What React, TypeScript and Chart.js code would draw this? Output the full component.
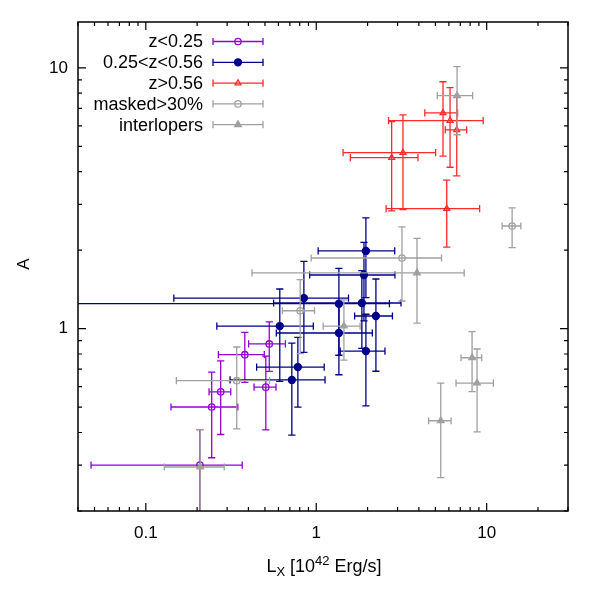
import React, { useEffect, useRef } from "react";
import { Chart, registerables } from "chart.js";

Chart.register(...registerables);

// ---------- data ----------
const seriesNames = ["z<0.25", "0.25<z<0.56", "z>0.56", "masked>30%", "interlopers"];
const seriesColors = ["#9400d3", "#00008b", "#ff2a2a", "#a0a0a0", "#a0a0a0"];

// z<0.25
const lowX = [0.53, 0.381, 0.275, 0.2435, 0.506, 0.2077];
const lowXErr = [0.129, 0.1145, 0.04, 0.103, 0.0745, 0.16];
const lowY = [0.874, 0.795, 0.573, 0.501, 0.597, 0.3];
const lowYErr = [0.188, 0.1725, 0.18, 0.181, 0.1875, 0.11];

// 0.25<z<0.56
const midX = [1.956, 1.905, 1.852, 1.358, 2.239, 1.358, 1.956, 0.846, 0.611, 0.78, 0.719];
const midXErr = [0.93, 0.99, 1.29, 1.33, 0.56, 0.775, 0.574, 0.7, 0.35, 0.333, 0.407];
const midY = [1.987, 1.607, 1.255, 1.247, 1.119, 0.963, 0.821, 1.311, 1.024, 0.713, 0.636];
const midYErr = [0.672, 0.536, 0.414, 0.456, 0.432, 0.297, 0.315, 0.5, 0.396, 0.213, 0.245];

// z>0.56
const highX = [5.543, 6.095, 6.673, 3.227, 2.77, 5.83];
const highXErr = [1.21, 3.44, 0.96, 1.79, 1.185, 3.26];
const highY = [6.722, 6.281, 5.783, 4.732, 4.528, 2.886];
const highYErr = [2.13, 2.12, 1.93, 1.87, 1.7, 0.83];

// masked>30%
const maskX = [0.3415, 0.805, 3.184, 14.1];
const maskXErr = [0.1905, 0.172, 2.25, 1.77];
const maskY = [0.632, 1.172, 1.867, 2.477];
const maskYErr = [0.219, 0.37, 0.59, 0.43];

// interlopers
const intX = [0.2085, 1.453, 3.9, 6.7, 5.374, 8.209, 8.78];
const intXErr = [0.08, 0.355, 3.48, 1.57, 0.81, 1.14, 2.17];
const intY = [0.295, 1.024, 1.636, 7.832, 0.4437, 0.774, 0.619];
const intYErr = [0.115, 0.266, 0.585, 2.29, 0.175, 0.2, 0.217];

// axes
const xMin = 0.04;
const xMax = 30;
const yMin = 0.2;
const yMax = 15;
const xTickLabels = [0.1, 1, 10];
const yTickLabels = [1, 10];

const FONT = '"Liberation Sans", Arial, sans-serif';

function drawMarker(ctx: CanvasRenderingContext2D, style: string, filled: boolean, x: number, y: number, r: number, color: string) {
  ctx.save();
  ctx.beginPath();
  if (style === "triangle") {
    let rad = 0;
    ctx.moveTo(x + Math.sin(rad) * r, y - Math.cos(rad) * r);
    rad += (2 * Math.PI) / 3;
    ctx.lineTo(x + Math.sin(rad) * r, y - Math.cos(rad) * r);
    rad += (2 * Math.PI) / 3;
    ctx.lineTo(x + Math.sin(rad) * r, y - Math.cos(rad) * r);
    ctx.closePath();
  } else {
    ctx.arc(x, y, r, 0, Math.PI * 2);
  }
  ctx.lineWidth = 1.3;
  ctx.strokeStyle = color;
  if (filled) {
    ctx.fillStyle = color;
    ctx.fill();
  }
  ctx.stroke();
  ctx.restore();
}

const pointStyles = ["circle", "circle", "triangle", "circle", "triangle"];
const pointFilled = [false, true, false, false, true];
const pointRadii = [3.2, 3.5, 3.4, 3.2, 3.8];

const CAP = 3.6;

const errorBarPlugin = {
  id: "errorBars",
  beforeDatasetDraw(chart: any, args: any) {
    const ds = chart.data.datasets[args.index];
    const xs = chart.scales.x;
    const ys = chart.scales.y;
    const ca = chart.chartArea;
    const ctx: CanvasRenderingContext2D = chart.ctx;
    ctx.save();
    ctx.beginPath();
    ctx.rect(ca.left, ca.top, ca.right - ca.left, ca.bottom - ca.top);
    ctx.clip();
    ctx.strokeStyle = ds.borderColor;
    ctx.lineWidth = 1.3;
    ds.data.forEach((p: any, i: number) => {
      const dx = ds.xErr[i];
      const dy = ds.yErr[i];
      const px = xs.getPixelForValue(p.x);
      const py = ys.getPixelForValue(p.y);
      const x1 = xs.getPixelForValue(Math.max(p.x - dx, 1e-4));
      const x2 = xs.getPixelForValue(p.x + dx);
      const y1 = ys.getPixelForValue(Math.max(p.y - dy, 1e-4));
      const y2 = ys.getPixelForValue(p.y + dy);
      ctx.beginPath();
      ctx.moveTo(x1, py);
      ctx.lineTo(x2, py);
      ctx.moveTo(x1, py - CAP);
      ctx.lineTo(x1, py + CAP);
      ctx.moveTo(x2, py - CAP);
      ctx.lineTo(x2, py + CAP);
      ctx.moveTo(px, y1);
      ctx.lineTo(px, y2);
      ctx.moveTo(px - CAP, y1);
      ctx.lineTo(px + CAP, y1);
      ctx.moveTo(px - CAP, y2);
      ctx.lineTo(px + CAP, y2);
      ctx.stroke();
    });
    ctx.restore();
  },
};

function minorValues(min: number, max: number): number[] {
  const out: number[] = [];
  for (let e = Math.floor(Math.log10(min)); e <= Math.ceil(Math.log10(max)); e++) {
    for (let m = 1; m <= 9; m++) {
      const v = m * Math.pow(10, e);
      if (v >= min * 0.999 && v <= max * 1.001) out.push(v);
    }
  }
  return out;
}

const axesPlugin = {
  id: "gnuAxes",
  afterDraw(chart: any) {
    const ctx: CanvasRenderingContext2D = chart.ctx;
    const ca = chart.chartArea;
    const xs = chart.scales.x;
    const ys = chart.scales.y;
    ctx.save();
    ctx.strokeStyle = "#000";
    ctx.lineWidth = 1.5;
    ctx.strokeRect(ca.left, ca.top, ca.right - ca.left, ca.bottom - ca.top);

    ctx.lineWidth = 1.2;
    const MAJ = 8;
    const MIN = 4;
    minorValues(xMin, xMax).forEach((v) => {
      const isMajor = Math.abs(Math.log10(v) - Math.round(Math.log10(v))) < 1e-6;
      const len = isMajor ? MAJ : MIN;
      const px = xs.getPixelForValue(v);
      ctx.beginPath();
      ctx.moveTo(px, ca.bottom);
      ctx.lineTo(px, ca.bottom - len);
      ctx.moveTo(px, ca.top);
      ctx.lineTo(px, ca.top + len);
      ctx.stroke();
    });
    minorValues(yMin, yMax).forEach((v) => {
      const isMajor = Math.abs(Math.log10(v) - Math.round(Math.log10(v))) < 1e-6;
      const len = isMajor ? MAJ : MIN;
      const py = ys.getPixelForValue(v);
      ctx.beginPath();
      ctx.moveTo(ca.left, py);
      ctx.lineTo(ca.left + len, py);
      ctx.moveTo(ca.right, py);
      ctx.lineTo(ca.right - len, py);
      ctx.stroke();
    });

    ctx.fillStyle = "#000";
    ctx.font = `17px ${FONT}`;
    ctx.textAlign = "center";
    ctx.textBaseline = "middle";
    xTickLabels.forEach((v) => {
      ctx.fillText(String(v), xs.getPixelForValue(v), ca.bottom + 22);
    });
    ctx.textAlign = "right";
    yTickLabels.forEach((v) => {
      ctx.fillText(String(v), ca.left - 10, ys.getPixelForValue(v));
    });

    // y title
    ctx.save();
    ctx.translate(24, 264);
    ctx.rotate(-Math.PI / 2);
    ctx.textAlign = "center";
    ctx.textBaseline = "middle";
    ctx.font = `17px ${FONT}`;
    ctx.fillText("A", 0, 0);
    ctx.restore();

    // x title: L_X [10^42 Erg/s]
    const parts = [
      { t: "L", size: 18, dy: 0 },
      { t: "X", size: 13, dy: 4 },
      { t: " [10", size: 18, dy: 0 },
      { t: "42", size: 13, dy: -7 },
      { t: " Erg/s]", size: 18, dy: 0 },
    ];
    let total = 0;
    parts.forEach((p) => {
      ctx.font = `${p.size}px ${FONT}`;
      total += ctx.measureText(p.t).width;
    });
    let cx = 324 - total / 2;
    ctx.textAlign = "left";
    ctx.textBaseline = "alphabetic";
    parts.forEach((p) => {
      ctx.font = `${p.size}px ${FONT}`;
      ctx.fillText(p.t, cx, 572 + p.dy);
      cx += ctx.measureText(p.t).width;
    });

    // legend
    ctx.font = `18px ${FONT}`;
    ctx.textAlign = "right";
    ctx.textBaseline = "middle";
    seriesNames.forEach((name, i) => {
      const y = 41.5 + i * 20.8;
      ctx.fillStyle = "#000";
      ctx.fillText(name, 203, y + 1);
      const c = seriesColors[i];
      ctx.strokeStyle = c;
      ctx.lineWidth = 1.3;
      ctx.beginPath();
      ctx.moveTo(213, y);
      ctx.lineTo(263, y);
      ctx.moveTo(213, y - CAP);
      ctx.lineTo(213, y + CAP);
      ctx.moveTo(263, y - CAP);
      ctx.lineTo(263, y + CAP);
      ctx.stroke();
      drawMarker(ctx, pointStyles[i], pointFilled[i], 238, y, pointRadii[i], c);
    });
    ctx.restore();
  },
};

function makeDataset(i: number, xs: number[], xe: number[], ys: number[], ye: number[]) {
  return {
    label: seriesNames[i],
    data: xs.map((x, k) => ({ x, y: ys[k] })),
    xErr: xe,
    yErr: ye,
    borderColor: seriesColors[i],
    backgroundColor: pointFilled[i] ? seriesColors[i] : "rgba(0,0,0,0)",
    pointStyle: pointStyles[i],
    pointRadius: pointRadii[i],
    pointBorderWidth: 1.3,
    showLine: false,
    order: 5 - i,
  } as any;
}

export default function App() {
  const ref = useRef<HTMLCanvasElement | null>(null);
  useEffect(() => {
    document.body.style.margin = "0";
    if (!ref.current) return;
    const chart = new Chart(ref.current, {
      type: "scatter",
      data: {
        datasets: [
          makeDataset(0, lowX, lowXErr, lowY, lowYErr),
          makeDataset(1, midX, midXErr, midY, midYErr),
          makeDataset(2, highX, highXErr, highY, highYErr),
          makeDataset(3, maskX, maskXErr, maskY, maskYErr),
          makeDataset(4, intX, intXErr, intY, intYErr),
        ],
      },
      options: {
        animation: false,
        responsive: false,
        devicePixelRatio: 1,
        layout: { padding: { left: 78, right: 32, top: 22, bottom: 89 } },
        scales: {
          x: { type: "logarithmic", min: xMin, max: xMax, display: false },
          y: { type: "logarithmic", min: yMin, max: yMax, display: false },
        },
        plugins: {
          legend: { display: false },
          tooltip: { enabled: false },
        },
      },
      plugins: [errorBarPlugin, axesPlugin],
    } as any);
    return () => chart.destroy();
  }, []);
  return (
    <div style={{ width: 600, height: 600, background: "#fff" }}>
      <canvas ref={ref} width={600} height={600} style={{ display: "block" }} />
    </div>
  );
}
